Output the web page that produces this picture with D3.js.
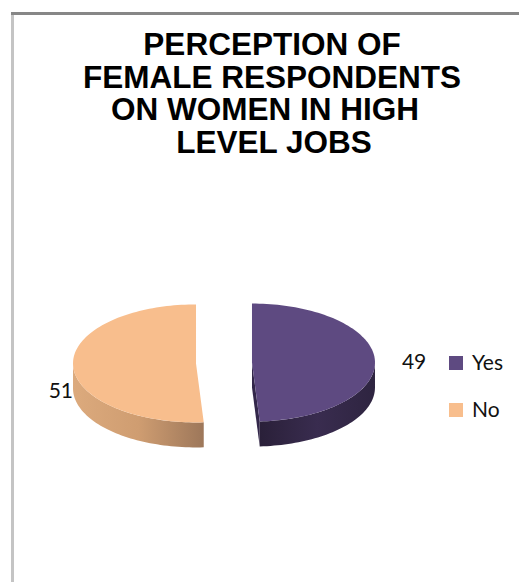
<!DOCTYPE html>
<html>
<head>
<meta charset="utf-8">
<script src="https://cdn.jsdelivr.net/npm/d3@7"></script>
<style>
  body { margin: 0; background: #fff; }
</style>
</head>
<body>
<div id="chart"></div>
<script>
// data
const categories = ["Yes", "No"];
const values = [49, 51];
const titleLines = ["PERCEPTION OF", "FEMALE RESPONDENTS", "ON WOMEN IN HIGH", "LEVEL JOBS"];

// layout
const W = 519, H = 582;
const titleX = [272, 272, 265, 274];
const cx0 = 224, cy = 363, rx = 123, ry = 59, depth = 25, explode = 28;

const color = d3.scaleOrdinal()
    .domain(categories)
    .range(["#5e4a81", "#f8be8d"]);
const sideStops = {
    Yes: ["#2a2039", "#392c4f", "#2e2440"],
    No: ["#dcaa7d", "#cf9d71", "#9d775a"]
};
const cutColor = { Yes: "#33274a", No: "#b08562" };
// label offsets from the slice's mid point on the rim
const labelOff = { Yes: [27, 8, "start"], No: [0, 33, "end"] };

const svg = d3.select("#chart")
    .append("svg")
    .attr("width", W)
    .attr("height", H)
    .style("display", "block");

svg.append("rect").attr("width", W).attr("height", H).attr("fill", "#fff");

// frame lines
svg.append("rect")
    .attr("x", 11).attr("y", 12)
    .attr("width", 3).attr("height", H - 12)
    .attr("fill", "#c4c4c4");
svg.append("rect")
    .attr("x", 11).attr("y", 12)
    .attr("width", W - 11).attr("height", 3)
    .attr("fill", "#878787");

// title
svg.append("g")
    .selectAll("text")
    .data(titleLines)
    .join("text")
    .attr("x", (d, i) => titleX[i])
    .attr("y", (d, i) => 55 + i * 32.6)
    .attr("text-anchor", "middle")
    .style("font-family", "'Liberation Sans', Arial, sans-serif")
    .style("font-weight", "bold")
    .style("font-size", "31.5px")
    .attr("fill", "#000")
    .text(d => d);

// gradients for the side walls
const defs = svg.append("defs");
categories.forEach(c => {
    const g = defs.append("linearGradient")
        .attr("id", "side-" + c)
        .attr("x1", "0%").attr("x2", "100%")
        .attr("y1", "0%").attr("y2", "0%");
    sideStops[c].forEach((s, i) => {
        g.append("stop")
            .attr("offset", (i / (sideStops[c].length - 1) * 100) + "%")
            .attr("stop-color", s);
    });
});

const pie = d3.pie().sort(null).value(d => d.value);
const arcs = pie(categories.map((c, i) => ({ name: c, value: values[i] })));

const line = d3.line();
const rim = (c, a, dy = 0) => [c[0] + rx * Math.sin(a), c[1] - ry * Math.cos(a) + dy];
const arcPts = (c, a0, a1, dy = 0) => {
    const n = Math.max(2, Math.ceil((a1 - a0) / 0.03));
    return d3.range(n + 1).map(i => rim(c, a0 + (a1 - a0) * i / n, dy));
};

const slices = svg.append("g");

arcs.forEach(d => {
    const name = d.data.name;
    const mid = (d.startAngle + d.endAngle) / 2;
    const c = [cx0 + explode * Math.sin(mid), cy - explode * Math.cos(mid) * ry / rx];
    const g = slices.append("g");

    // cut faces that face the viewer
    [[d.startAngle, -Math.sin(d.startAngle)], [d.endAngle, Math.sin(d.endAngle)]].forEach(([a, facing]) => {
        if (facing > 0.001) {
            const p = rim(c, a);
            g.append("path")
                .attr("d", line([c, p, [p[0], p[1] + depth], [c[0], c[1] + depth]]) + "Z")
                .attr("fill", cutColor[name]);
        }
    });

    // outer wall on the front half
    const f0 = Math.max(d.startAngle, Math.PI / 2);
    const f1 = Math.min(d.endAngle, Math.PI * 1.5);
    if (f1 > f0) {
        const pts = arcPts(c, f0, f1).concat(arcPts(c, f0, f1, depth).reverse());
        g.append("path")
            .attr("d", line(pts) + "Z")
            .attr("fill", `url(#side-${name})`);
    }

    // top face
    g.append("path")
        .attr("d", line([c].concat(arcPts(c, d.startAngle, d.endAngle))) + "Z")
        .attr("fill", color(name));

    // value label
    const lp = rim(c, mid);
    const off = labelOff[name];
    svg.append("text")
        .attr("x", lp[0] + off[0])
        .attr("y", lp[1] + off[1])
        .attr("text-anchor", off[2])
        .style("font-family", "Lato, 'Open Sans', sans-serif")
        .style("font-size", "21px")
        .attr("fill", "#111")
        .text(d.data.value);
});

// legend
const legend = svg.append("g")
    .selectAll("g")
    .data(categories)
    .join("g")
    .attr("transform", (d, i) => `translate(449, ${356 + i * 47})`);
legend.append("rect")
    .attr("width", 14).attr("height", 14)
    .attr("fill", d => color(d));
legend.append("text")
    .attr("x", 23)
    .attr("y", 13.5)
    .style("font-family", "Lato, 'Open Sans', sans-serif")
    .style("font-size", "21px")
    .attr("fill", "#111")
    .text(d => d);
</script>
</body>
</html>
